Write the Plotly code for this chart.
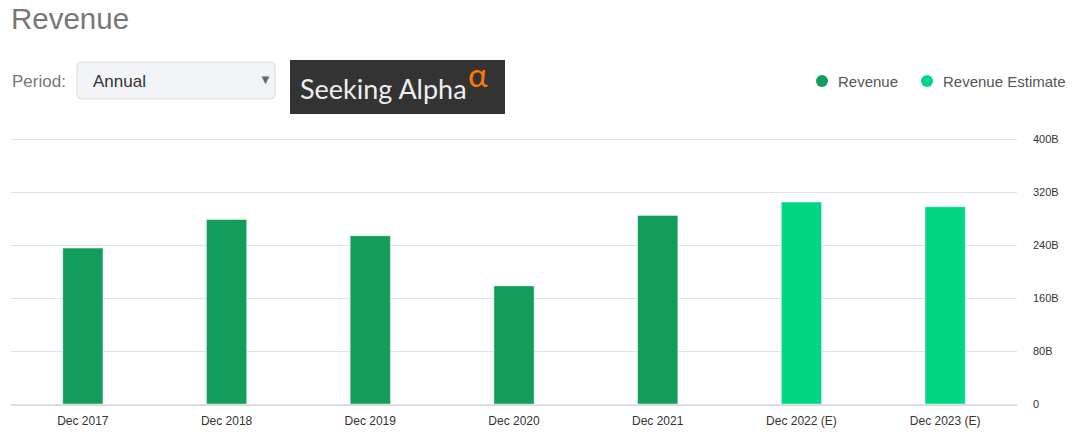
import plotly.graph_objects as go

# ---- data ----
categories = ["Dec 2017", "Dec 2018", "Dec 2019", "Dec 2020", "Dec 2021", "Dec 2022 (E)", "Dec 2023 (E)"]
revenue_b = [235.3, 278.5, 253.9, 178.3, 284.6, None, None]
estimate_b = [None, None, None, None, None, 304.8, 297.7]
ytick_vals = [0, 80, 160, 240, 320, 400]
ytick_text = ["0", "80B", "160B", "240B", "320B", "400B"]

REV_COLOR = "#129e5a"
EST_COLOR = "#00d683"

W, HGT = 1087, 435
# plot area in page pixels
L, R, T, B = 11, 1017, 130, 404
PX_PER_UNIT = (404 - 139) / 400.0
Y_TOP = (B - T) / PX_PER_UNIT


def pxx(x):
    return (x - L) / (R - L)


def pxy(y):
    return (B - y) / (B - T)


fig = go.Figure()
fig.add_trace(go.Bar(x=categories, y=revenue_b, name="Revenue",
                     marker=dict(color=REV_COLOR, line=dict(color="rgba(255,255,255,0.45)", width=1)),
                     width=0.28, showlegend=False))
fig.add_trace(go.Bar(x=categories, y=estimate_b, name="Revenue Estimate",
                     marker=dict(color=EST_COLOR, line=dict(color="rgba(255,255,255,0.45)", width=1)),
                     width=0.28, showlegend=False))

shapes = []
annotations = []

# dropdown box with rounded corners
x0, x1, y0, y1, r = 77, 275, 62, 99, 4
path = (f"M {pxx(x0 + r)},{pxy(y0)} L {pxx(x1 - r)},{pxy(y0)} Q {pxx(x1)},{pxy(y0)} {pxx(x1)},{pxy(y0 + r)} "
        f"L {pxx(x1)},{pxy(y1 - r)} Q {pxx(x1)},{pxy(y1)} {pxx(x1 - r)},{pxy(y1)} "
        f"L {pxx(x0 + r)},{pxy(y1)} Q {pxx(x0)},{pxy(y1)} {pxx(x0)},{pxy(y1 - r)} "
        f"L {pxx(x0)},{pxy(y0 + r)} Q {pxx(x0)},{pxy(y0)} {pxx(x0 + r)},{pxy(y0)} Z")
shapes.append(dict(type="path", path=path, xref="paper", yref="paper",
                   fillcolor="#f1f3f6", line=dict(color="#d9dce1", width=1), layer="above"))

# Seeking Alpha logo box
shapes.append(dict(type="rect", xref="paper", yref="paper",
                   x0=pxx(290), x1=pxx(505), y0=pxy(114), y1=pxy(60),
                   fillcolor="#333333", line=dict(width=0), layer="above"))

# legend circles
for cx, col in [(822, REV_COLOR), (927, EST_COLOR)]:
    shapes.append(dict(type="circle", xref="paper", yref="paper",
                       x0=pxx(cx - 6), x1=pxx(cx + 6), y0=pxy(87), y1=pxy(75),
                       fillcolor=col, line=dict(width=0), layer="above"))


def ann(text, x, y, size, color, family="Arial, Liberation Sans, sans-serif", anchor="left"):
    annotations.append(dict(text=text, x=pxx(x), y=pxy(y), xref="paper", yref="paper",
                            xanchor=anchor, yanchor="middle", showarrow=False, borderpad=0,
                            font=dict(size=size, color=color, family=family)))


ann("Period:", 11, 81, 17, "#777777")
ann("Annual", 92, 81, 17, "#333333")
ann("▼", 265, 80, 13, "#666666", anchor="center")
ann("Seeking Alpha", 299, 88, 27, "#eeeeee", family="Lato, Open Sans, sans-serif")
ann("α", 467, 74, 33, "#ff7a00", family="Lato, Open Sans, sans-serif")
ann("Revenue", 837, 81, 15, "#555555")
ann("Revenue Estimate", 942, 81, 15, "#555555")

fig.update_layout(
    width=W, height=HGT,
    margin=dict(l=L, r=W - R, t=T, b=HGT - B, pad=0, autoexpand=False),
    paper_bgcolor="white", plot_bgcolor="white",
    barmode="overlay",
    title=dict(text="Revenue", x=11 / W, xanchor="left", y=1 - 19 / HGT, yanchor="middle",
               xref="container", yref="container",
               font=dict(size=29.5, color="#777777", family="Arial, Liberation Sans, sans-serif")),
    shapes=shapes,
    annotations=annotations,
    font=dict(family="Arial, Liberation Sans, sans-serif", color="#333333"),
    xaxis=dict(type="category", range=[-0.5, 6.5], showgrid=False, zeroline=False, automargin=False,
               showline=True, linecolor="#dcdcdc", linewidth=2, ticks="",
               tickfont=dict(size=12, color="#333333"), ticklabelstandoff=5, fixedrange=True),
    yaxis=dict(side="right", range=[0, Y_TOP], tickvals=ytick_vals, ticktext=ytick_text, automargin=False,
               showgrid=True, gridcolor="#e3e3e3", gridwidth=1, zeroline=False, showline=False,
               ticks="", tickfont=dict(size=11, color="#333333"), ticklabelstandoff=15, fixedrange=True),
)

fig.write_html("out.html", config={"displayModeBar": False},
               post_script="document.body.style.margin='0px';")
